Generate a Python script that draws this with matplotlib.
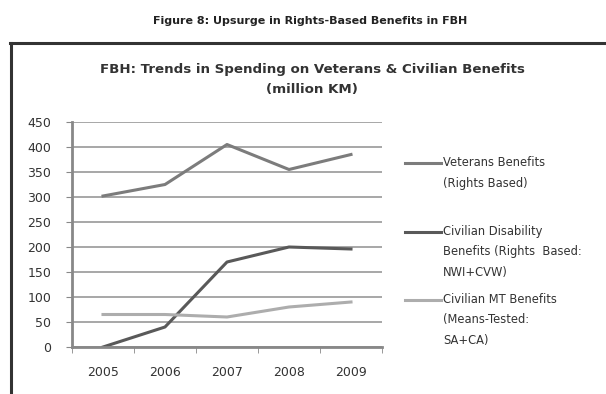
import matplotlib.pyplot as plt
from matplotlib.lines import Line2D

years = ['2005', '2006', '2007', '2008', '2009']
veterans = [302, 325, 405, 355, 385]
disability = [0, 40, 170, 200, 196]
means_tested = [65, 65, 60, 80, 90]

labels = ['Veterans Benefits\n(Rights Based)',
          'Civilian Disability\nBenefits (Rights  Based:\nNWI+CVW)',
          'Civilian MT Benefits\n(Means-Tested:\nSA+CA)']
colors = ['#7c7c7c', '#595959', '#adadad']

plt.rcParams['font.family'] = ['DejaVu Sans']

fig = plt.figure(figsize=(6.06, 3.94), dpi=100)
fig.patch.set_facecolor('white')

fig.text(0.512, 1 - 21 / 394, 'Figure 8: Upsurge in Rights-Based Benefits in FBH',
         ha='center', va='center', fontsize=8, fontweight='bold', color='#222222')

# outer chart frame (cut off at right and bottom)
fig.add_artist(Line2D([11 / 606, 11 / 606], [0, 1 - 43 / 394], transform=fig.transFigure,
                      color='#333333', lw=2.2))
fig.add_artist(Line2D([10 / 606, 1], [1 - 43 / 394, 1 - 43 / 394], transform=fig.transFigure,
                      color='#333333', lw=2.2))

fig.text(0.515, 1 - 69 / 394, 'FBH: Trends in Spending on Veterans & Civilian Benefits',
         ha='center', va='center', fontsize=9.6, fontweight='bold', color='#333333')
fig.text(0.515, 1 - 90 / 394, '(million KM)',
         ha='center', va='center', fontsize=9.6, fontweight='bold', color='#333333')

ax = fig.add_axes([72 / 606, 1 - 347 / 394, 310 / 606, 225 / 394])
x = range(len(years))
for vals, c in zip([veterans, disability, means_tested], colors):
    ax.plot(x, vals, color=c, lw=2.2)

ax.set_xlim(-0.5, len(years) - 0.5)
ax.set_ylim(0, 450)
ax.set_yticks(range(0, 451, 50))
ax.set_xticks(x)
ax.set_xticklabels(years)
ax.set_xticks([i - 0.5 for i in range(len(years) + 1)], minor=True)
ax.tick_params(axis='x', which='major', length=0, pad=14, labelsize=9, labelcolor='#333333')
ax.tick_params(axis='x', which='minor', length=4, color='#888888', direction='out')
ax.tick_params(axis='y', length=4, color='#888888', labelsize=9, labelcolor='#333333', pad=11)
ax.grid(axis='y', color='#a0a0a0', lw=1.3)
ax.set_axisbelow(True)
for s in ['top', 'right']:
    ax.spines[s].set_visible(False)
ax.spines['left'].set_color('#888888')
ax.spines['left'].set_linewidth(2)
ax.spines['bottom'].set_color('#888888')
ax.spines['bottom'].set_linewidth(2)

# legend
ly = [163, 232, 300]
for lab, c, yy in zip(labels, colors, ly):
    yf = 1 - yy / 394
    fig.add_artist(Line2D([405 / 606, 441 / 606], [yf, yf], transform=fig.transFigure,
                          color=c, lw=2.2))
    fig.text(443 / 606, yf + 7 / 394, lab, ha='left', va='top', fontsize=8.3,
             color='#333333', linespacing=1.75)

fig.savefig('out.png', dpi=100)
